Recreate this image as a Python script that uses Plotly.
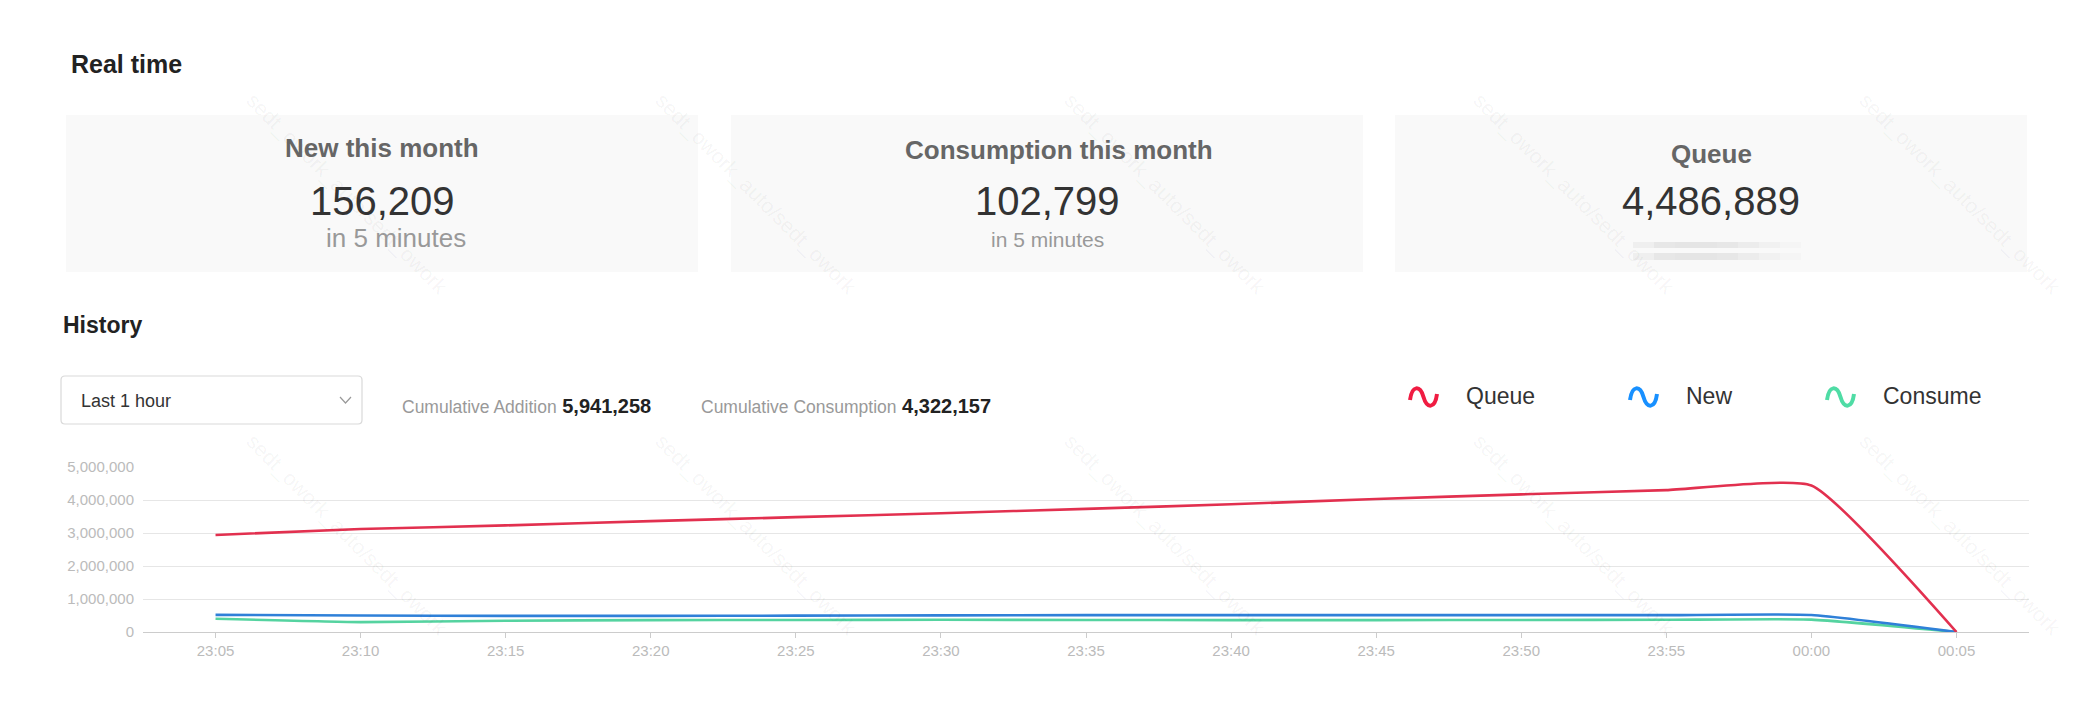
import plotly.graph_objects as go

# page is rendered with an 8px body margin, so the figure is a bit smaller
OFF = 8
FW, FH = 2084 - 2 * OFF, 716 - 2 * OFF
# chart area in page px
L, R, T, B = 143, 2029, 467, 632

times = ["23:05", "23:10", "23:15", "23:20", "23:25", "23:30", "23:35",
         "23:40", "23:45", "23:50", "23:55", "00:00", "00:05"]
queue = [2940000, 3120000, 3230000, 3360000, 3480000, 3600000, 3730000,
         3870000, 4030000, 4170000, 4300000, 4440000, 0]
new = [520000, 500000, 490000, 490000, 495000, 505000, 510000,
       510000, 510000, 510000, 510000, 515000, 0]
consume = [400000, 300000, 340000, 360000, 365000, 370000, 365000,
           360000, 360000, 365000, 370000, 375000, 0]

series_names = ["Queue", "New", "Consume"]
line_colors = ["#e2304f", "#2f80d8", "#55d3a0"]
icon_colors = ["#f01c42", "#1890ff", "#4fdca5"]

card_titles = ["New this month", "Consumption this month", "Queue"]
card_values = ["156,209", "102,799", "4,486,889"]
card_notes = ["in 5 minutes", "in 5 minutes", ""]

cumulative_labels = ["Cumulative Addition", "Cumulative Consumption"]
cumulative_values = ["5,941,258", "4,322,157"]

range_option = "Last 1 hour"
watermark = "sedt_owork_auto/sedt_owork"

FONT = "Liberation Sans, Arial, Helvetica, sans-serif"


def px(x):
    return (x - L) / (R - L)


def py(y):
    return (B - y) / (B - T)


annotations = []
shapes = []


def text(s, x, baseline, size, color, bold=False, xanchor="left"):
    if bold:
        s = "<b>" + s + "</b>"
    annotations.append(dict(
        text=s, x=px(x), y=py(baseline - 0.36 * size), xref="paper", yref="paper",
        xanchor=xanchor, yanchor="middle", showarrow=False,
        font=dict(family=FONT, size=size, color=color)))


# watermark (drawn first so it stays underneath)
for wy in [86, 427]:
    for wx in [239, 648, 1057, 1466, 1852]:
        annotations.append(dict(
            text=watermark, x=px(wx + 108), y=py(wy + 108), xref="paper", yref="paper",
            xanchor="center", yanchor="middle", showarrow=False, textangle=45,
            font=dict(family=FONT, size=21, color="rgba(0,0,0,0.05)")))

# section headings
text("Real time", 69, 73, 25, "#222", bold=True)
text("History", 61, 333, 23, "#222", bold=True)

# cards
card_x = [(66, 698), (731, 1363), (1395, 2027)]
title_base = [157, 159, 163]
title_shift = [0, 12, 0]
note_size = [26, 21, 21]
note_shift = [14, 0, 0]
for i, (x0, x1) in enumerate(card_x):
    shapes.append(dict(type="rect", xref="paper", yref="paper",
                       x0=px(x0), x1=px(x1), y0=py(115), y1=py(272),
                       fillcolor="#f9f9f9", line=dict(width=0), layer="below"))
    cx = (x0 + x1) / 2
    text(card_titles[i], cx + title_shift[i], title_base[i], 26, "#666", bold=True, xanchor="center")
    text(card_values[i], cx, 215, 40, "#333", xanchor="center")
    if card_notes[i]:
        text(card_notes[i], cx + note_shift[i], 247, note_size[i], "#999", xanchor="center")

# loading placeholder bars in the queue card
seg_alpha = [0.04, 0.07, 0.08, 0.08, 0.07, 0.05, 0.03, 0.015]
for (y0, y1) in [(242, 248), (253, 260)]:
    for k, a in enumerate(seg_alpha):
        shapes.append(dict(type="rect", xref="paper", yref="paper",
                           x0=px(1633 + k * 21), x1=px(1633 + (k + 1) * 21),
                           y0=py(y1), y1=py(y0),
                           fillcolor="rgba(0,0,0,%.3f)" % a, line=dict(width=0)))

# dropdown box
bx0, bx1, by0, by1, r = 61, 362, 376, 424, 4
path = ("M {a},{b} L {c},{b} Q {d},{b} {d},{e} L {d},{f} Q {d},{g} {c},{g} "
        "L {a},{g} Q {h},{g} {h},{f} L {h},{e} Q {h},{b} {a},{b} Z").format(
    a=px(bx0 + r), b=py(by0), c=px(bx1 - r), d=px(bx1), e=py(by0 + r),
    f=py(by1 - r), g=py(by1), h=px(bx0))
shapes.append(dict(type="path", path=path, xref="paper", yref="paper",
                   fillcolor="white", line=dict(color="#d9d9d9", width=1.2)))
shapes.append(dict(type="path", xref="paper", yref="paper",
                   path="M {},{} L {},{} L {},{}".format(px(340), py(397), px(345.5), py(403),
                                                        px(351), py(397)),
                   line=dict(color="#999", width=1.2)))
text(range_option, 79, 407, 18, "#333")

# cumulative totals: grey label followed by bold figure
for lab, val, x in zip(cumulative_labels, cumulative_values, [400, 699]):
    text("<span style='color:#999999;font-size:17.5px'>" + lab + "</span> <b>" + val + "</b>",
         x, 413, 20, "#222")

# legend with wave icons
icon_x = [1410, 1630, 1827]
label_x = [1464, 1684, 1881]
yc = 397
wave = [(0, 3), (2, -12), (10, -12), (13.5, 0), (17, 12), (25, 12), (27, -3)]
for i, name in enumerate(series_names):
    pts = [(px(icon_x[i] + dx), py(yc + dy)) for dx, dy in wave]
    p = "M {},{} C {},{} {},{} {},{} C {},{} {},{} {},{}".format(
        *[v for pt in pts for v in pt])
    shapes.append(dict(type="path", path=p, xref="paper", yref="paper",
                       line=dict(color=icon_colors[i], width=4)))
    text(name, label_x[i], 404, 23, "#333")

fig = go.Figure()
for name, vals, col in reversed(list(zip(series_names, [queue, new, consume], line_colors))):
    fig.add_trace(go.Scatter(x=times, y=vals, name=name, mode="lines",
                             line=dict(color=col, width=2.6, shape="spline", smoothing=0.45)))

fig.update_layout(
    width=FW, height=FH, autosize=False,
    margin=dict(l=L - OFF, r=FW - (R - OFF), t=T - OFF, b=FH - (B - OFF), pad=0),
    paper_bgcolor="white", plot_bgcolor="white",
    showlegend=False,
    font=dict(family=FONT),
    annotations=annotations, shapes=shapes,
    xaxis=dict(type="category", range=[-0.5, 12.5], showgrid=False,
               showline=True, linecolor="#cccccc", linewidth=1,
               ticks="outside", ticklen=5, tickcolor="#cccccc",
               tickfont=dict(size=15, color="#bbbbbb")),
    yaxis=dict(range=[0, 5000000], dtick=1000000, tickformat=",d",
               showgrid=True, gridcolor="#e6e6e6", zeroline=False, showline=False,
               ticks="", ticklabelstandoff=8,
               tickfont=dict(size=15, color="#bbbbbb")),
)

fig.write_html("out.html")
